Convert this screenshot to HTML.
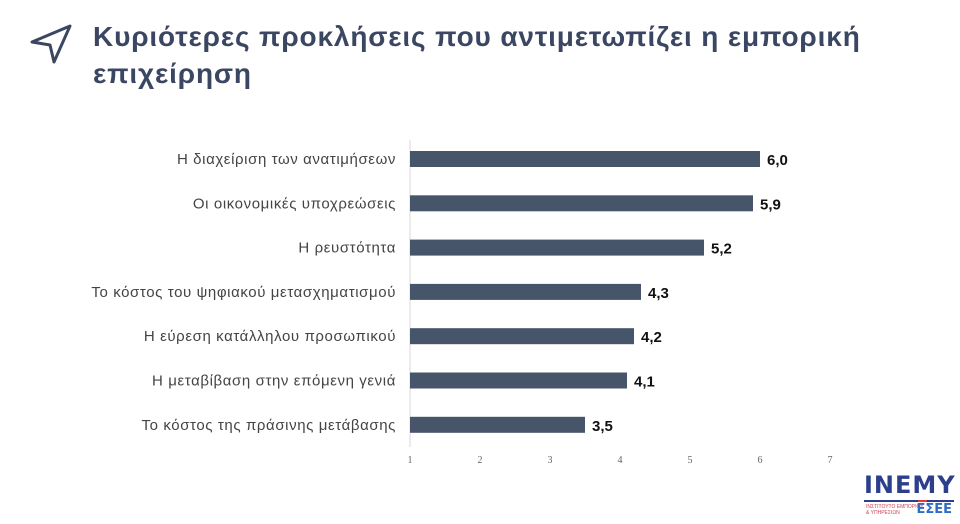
<!DOCTYPE html>
<html><head><meta charset="utf-8">
<style>
body{margin:0;width:960px;height:524px;background:#fff;overflow:hidden;font-family:"Liberation Sans","DejaVu Sans",sans-serif;}
.title{position:absolute;left:93px;top:18px;font-size:28px;font-weight:bold;color:#3b4762;line-height:37px;font-family:"Liberation Sans","DejaVu Sans",sans-serif;white-space:nowrap;letter-spacing:0.85px}
</style></head><body>
<svg style="position:absolute;left:28px;top:22px" width="48" height="44" viewBox="0 0 48 44">
<path d="M4 20 L42 4 L26 40 L22 23 Z" fill="none" stroke="#3b4762" stroke-width="3" stroke-linejoin="round"/></svg>
<div class="title">Κυριότερες προκλήσεις που αντιμετωπίζει η εμπορική<br>επιχείρηση</div>
<svg id="chart" style="position:absolute;left:0;top:0" width="960" height="524"></svg>
<div style="position:absolute;left:864px;top:472px;width:90px;height:48px">
<div style="font:bold 24px 'DejaVu Sans',sans-serif;color:#2b3f8c;letter-spacing:1px;line-height:26px">INEMY</div>
<div style="height:2px;background:linear-gradient(90deg,#2b3f8c 60%,#e0393e 60%,#e0393e 70%,#2b3f8c 70%);margin-top:2px"></div>
<div style="position:absolute;right:2px;top:30px;font:bold 13px 'DejaVu Sans',sans-serif;color:#2b6cc4">ΕΣΕΕ</div>
<div style="position:absolute;left:2px;top:32px;font:5px sans-serif;color:#c45;line-height:6px">ΙΝΣΤΙΤΟΥΤΟ ΕΜΠΟΡΙΟΥ<br>&amp; ΥΠΗΡΕΣΙΩΝ</div>
</div>
<script>
const categories=["Η διαχείριση των ανατιμήσεων","Οι οικονομικές υποχρεώσεις","Η ρευστότητα","Το κόστος του ψηφιακού μετασχηματισμού","Η εύρεση κατάλληλου προσωπικού","Η μεταβίβαση στην επόμενη γενιά","Το κόστος της πράσινης μετάβασης"];
const values=[6.0,5.9,5.2,4.3,4.2,4.1,3.5];
const valueLabels=["6,0","5,9","5,2","4,3","4,2","4,1","3,5"];
const ticks=[1,2,3,4,5,6,7];
const NS="http://www.w3.org/2000/svg";
const svg=document.getElementById('chart');
const x=v=>410+(v-1)*70;
const y=i=>159+i*44.3;
function mk(t,a){const e=document.createElementNS(NS,t);for(const k in a)e.setAttribute(k,a[k]);svg.appendChild(e);return e;}
const ax=mk('line',{x1:410,x2:410,y1:140,y2:447,stroke:'#d9d9d9','stroke-width':1});


ticks.forEach(t=>{const e=mk('text',{x:x(t),y:463,'text-anchor':'middle','font-size':10,fill:'#666','font-family':'Liberation Serif,serif'});e.textContent=t;

});
categories.forEach((c,i)=>{
const yc=y(i);
const l=mk('text',{x:396,y:yc+5,'text-anchor':'end','font-size':15,'letter-spacing':0.6,fill:'#444'});l.textContent=c;


const b=mk('rect',{x:410,y:yc-8,width:x(values[i])-410,height:16,fill:'#465569'});


const v=mk('text',{x:x(values[i])+7,y:yc+6,'font-size':15,'font-weight':'bold',fill:'#111'});v.textContent=valueLabels[i];


});
</script>
</body></html>
